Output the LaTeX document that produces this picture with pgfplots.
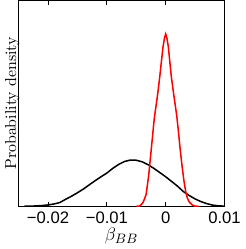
\documentclass[border=0pt]{standalone}
\usepackage{pgfplots}
\pgfplotsset{compat=1.18}
\usepackage{fontspec}
\newfontfamily\ticksfont{Liberation Sans}
\begin{document}
\begin{tikzpicture}
\begin{axis}[
  scale only axis, width=136pt, height=136pt,
  xmin=-0.025, xmax=0.01, ymin=0, ymax=209,
  xtick={-0.02,-0.01,0,0.01},
  xticklabels={−0.02,−0.01,0,0.01},
  scaled x ticks=false,
  ytick=\empty,
  tick align=inside,
  major tick length=3pt,
  xticklabel style={font=\ticksfont\fontsize{11}{13}\selectfont},
  axis line style={line width=0.6pt},
  every tick/.style={line width=0.6pt, black},
  xlabel={$\beta_{BB}$},
  xlabel style={font=\fontsize{12.5}{14}\selectfont, yshift=4pt},
  ylabel={Probability density},
  ylabel style={font=\fontsize{10.5}{12}\selectfont, yshift=-4pt},
]
\addplot[black, line width=1pt] coordinates {
(-0.024,0.1) (-0.023,0.2) (-0.022,0.4) (-0.021,0.8) (-0.020,1.4)
(-0.019,2.4) (-0.018,3.8) (-0.017,7.2) (-0.016,10.3) (-0.015,13.8)
(-0.014,17.5) (-0.013,21.8) (-0.012,26) (-0.011,30) (-0.010,33.8)
(-0.009,38.5) (-0.008,42.5) (-0.007,45.5) (-0.006,47) (-0.005,46.8)
(-0.004,45.2) (-0.003,42.3) (-0.002,38.5) (-0.001,34.3) (0.000,30)
(0.001,25.3) (0.002,20.5) (0.003,15) (0.004,11) (0.005,7.5)
(0.006,4.8) (0.007,2.7) (0.008,1.2) (0.009,0.5) (0.010,0.2)
};
\addplot[red, line width=1pt] coordinates {
(-0.0050,0) (-0.00445,0.3) (-0.0042,1.5) (-0.00388,3.7) (-0.0036,7.5)
(-0.00333,12) (-0.0031,22) (-0.00288,32) (-0.00255,52) (-0.00222,72)
(-0.00195,88.7) (-0.00133,115.3) (-0.0010,132) (-0.00045,162) (-0.0002,171)
(0,175)
(0.0002,171) (0.00045,162) (0.00095,132) (0.0014,112) (0.00188,92)
(0.0022,74) (0.00245,58.7) (0.0028,40) (0.00312,25.3) (0.0034,15)
(0.00367,8.7) (0.0040,4.5) (0.0045,1.5) (0.0049,0.3) (0.0056,0)
};
\end{axis}
\end{tikzpicture}
\end{document}
